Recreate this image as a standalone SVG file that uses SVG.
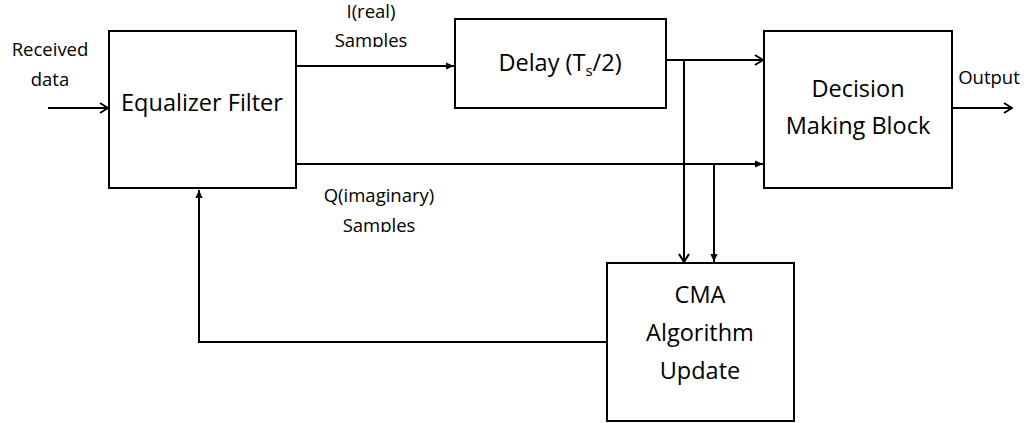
<svg xmlns="http://www.w3.org/2000/svg" width="1031" height="423" viewBox="0 0 1031 423">
  <style>
    .box { fill: #ffffff; stroke: #000000; stroke-width: 2; }
    .wire { fill: none; stroke: #000000; stroke-width: 2; }
    .open { marker-end: url(#chevron); }
    .solid { marker-end: url(#tri); }
    .big { font-family: "Open Sans", "Liberation Sans", sans-serif; font-size: 23.5px; fill: #000000; text-anchor: middle; }
    .small { font-family: "Open Sans", "Liberation Sans", sans-serif; font-size: 18.5px; fill: #000000; text-anchor: middle; }
  </style>
  <defs>
    <marker id="chevron" viewBox="0 0 12 12" refX="11" refY="6" markerWidth="12" markerHeight="12" markerUnits="userSpaceOnUse" orient="auto">
      <path d="M3,1 L11,6 L3,11" fill="none" stroke="#000000" stroke-width="2"/>
    </marker>
    <marker id="tri" viewBox="0 0 10 10" refX="9" refY="5" markerWidth="9" markerHeight="9" markerUnits="userSpaceOnUse" orient="auto">
      <path d="M0,1 L9,5 L0,9 Z" fill="#000000"/>
    </marker>
    <clipPath id="cutTop"><rect x="300" y="0" width="150" height="47"/></clipPath>
    <clipPath id="cutBottom"><rect x="300" y="210" width="150" height="22"/></clipPath>
  </defs>

  <rect width="1031" height="423" fill="#ffffff"/>

  <!-- signal paths -->
  <g id="connectors">
    <line class="wire open" x1="48" y1="108" x2="108" y2="108"/>
    <line class="wire solid" x1="296" y1="66" x2="454" y2="66"/>
    <line class="wire solid" x1="296" y1="164" x2="763" y2="164"/>
    <line class="wire open" x1="666" y1="60" x2="763" y2="60"/>
    <line class="wire open" x1="684" y1="60" x2="684" y2="262"/>
    <line class="wire solid" x1="714" y1="164" x2="714" y2="262"/>
    <line class="wire open" x1="952" y1="108" x2="1012" y2="108"/>
    <polyline class="wire solid" points="607,342 199,342 199,190"/>
  </g>

  <g id="equalizer">
    <rect class="box" x="109" y="31" width="187" height="157"/>
    <text class="big" x="202" y="111">Equalizer Filter</text>
  </g>

  <g id="delay">
    <rect class="box" x="455" y="19" width="211" height="89"/>
    <text class="big" x="560" y="71">Delay (T<tspan font-size="15" dy="5">s</tspan><tspan dy="-5">/2)</tspan></text>
  </g>

  <g id="decision">
    <rect class="box" x="764" y="31" width="188" height="157"/>
    <text class="big" x="858" y="97">Decision</text>
    <text class="big" x="858" y="134">Making Block</text>
  </g>

  <g id="cma">
    <rect class="box" x="607" y="263" width="187" height="158"/>
    <text class="big" x="700" y="303">CMA</text>
    <text class="big" x="700" y="341">Algorithm</text>
    <text class="big" x="700" y="379">Update</text>
  </g>

  <!-- edge labels -->
  <g id="labels">
    <text class="small" x="50" y="56">Received</text>
    <text class="small" x="50" y="86">data</text>
    <text class="small" x="989" y="84">Output</text>
    <text class="small" x="371" y="18">I(real)</text>
    <text class="small" x="371" y="47" clip-path="url(#cutTop)">Samples</text>
    <text class="small" x="379" y="202">Q(imaginary)</text>
    <text class="small" x="379" y="232" clip-path="url(#cutBottom)">Samples</text>
  </g>
</svg>
